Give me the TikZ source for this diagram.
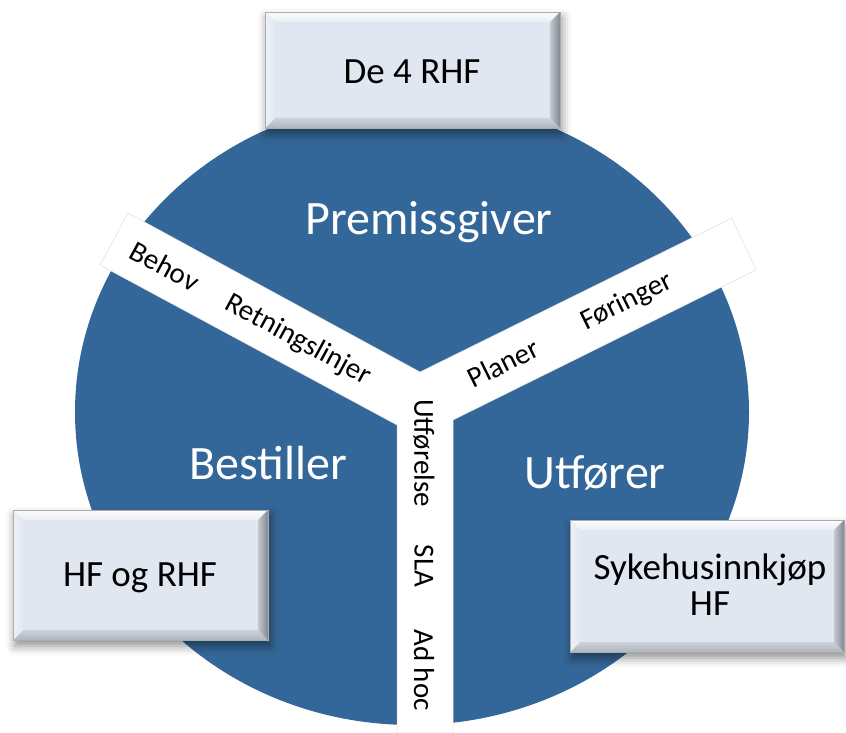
\documentclass[tikz,border=0pt]{standalone}
\usepackage{fontspec}
\setmainfont{Carlito}
\usetikzlibrary{shadows.blur}
\definecolor{circblue}{RGB}{52,103,153}
\definecolor{boxface}{RGB}{225,231,241}
\definecolor{bevtop}{RGB}{250,251,253}
\definecolor{bevleft}{RGB}{238,241,247}
\definecolor{bevright}{RGB}{130,136,146}
\definecolor{bevbot}{RGB}{175,181,190}
\newcommand\bevbox[4]{%
  \path[fill=boxface, blur shadow={shadow xshift=2pt, shadow yshift=-6pt, shadow blur radius=9pt, shadow opacity=45}] (#1,#2) rectangle (#3,#4);
  \path[top color=bevtop, bottom color=boxface!70!white] (#1,#2) -- (#3,#2) -- ([shift={(-10,10)}]#3,#2) -- ([shift={(10,10)}]#1,#2) -- cycle;
  \path[bottom color=bevbot, top color=boxface!80!gray] (#1,#4) -- (#3,#4) -- ([shift={(-10,-10)}]#3,#4) -- ([shift={(10,-10)}]#1,#4) -- cycle;
  \path[left color=bevleft, right color=boxface] (#1,#2) -- ([shift={(10,10)}]#1,#2) -- ([shift={(10,-10)}]#1,#4) -- (#1,#4) -- cycle;
  \path[left color=boxface!70!gray, right color=bevright] (#3,#2) -- ([shift={(-10,10)}]#3,#2) -- ([shift={(-10,-10)}]#3,#4) -- (#3,#4) -- cycle;
  \draw[gray!65, line width=0.8pt] (#1,#2) rectangle (#3,#4);
}
\tikzset{
  biglabel/.style={text=white, font=\fontsize{48}{52}\selectfont, inner sep=0pt},
  bandlabel/.style={text=black, font=\fontsize{29}{32}\selectfont, inner sep=0pt},
  boxlabel/.style={text=black, font=\fontsize{37}{36}\selectfont, inner sep=0pt, align=center}
}
\begin{document}
\begin{tikzpicture}[x=1pt, y=-1pt]
\useasboundingbox (0,0) rectangle (846,733);
% disc
\fill[circblue] (412,412) ellipse [x radius=337, y radius=313];
% Y band
\path[fill=white, draw=gray!25, line width=0.5pt]
  (128,213) -- (420,372) -- (732,218) -- (756,270) -- (453,420) -- (453,733)
  -- (397,733) -- (397,425) -- (100,265) -- cycle;
% section labels
\node[biglabel] (prem) at (429,222) {Premissgiver};
\node[biglabel] (best) at (268,463) {Bestiller};
\node[biglabel] (utf) at (595,473) {Utfører};
% band labels
\node[bandlabel, rotate=-28.6] (behov) at (165,266) {Behov};
\node[bandlabel, rotate=-28.6] (retn) at (298,340) {Retningslinjer};
\node[bandlabel, rotate=26.3] (plan) at (503,363) {Planer};
\node[bandlabel, rotate=26.3] (forng) at (627,302) {Føringer};
\node[bandlabel, rotate=-90] (utfo) at (424,453) {Utførelse};
\node[bandlabel, rotate=-90] (sla) at (424,566) {SLA};
\node[bandlabel, rotate=-90] (adhoc) at (424,670) {Ad hoc};
% boxes
\bevbox{265}{12}{560}{128}
\node[boxlabel] (rhf) at (412,72) {De 4 RHF};
\bevbox{13}{510}{268}{640}
\node[boxlabel] (hfrhf) at (140,578) {HF og RHF};
\bevbox{570}{520}{844}{652}
\node[boxlabel] (syk) at (710,585) {Sykehusinnkjøp\\HF};
\end{tikzpicture}
\end{document}
